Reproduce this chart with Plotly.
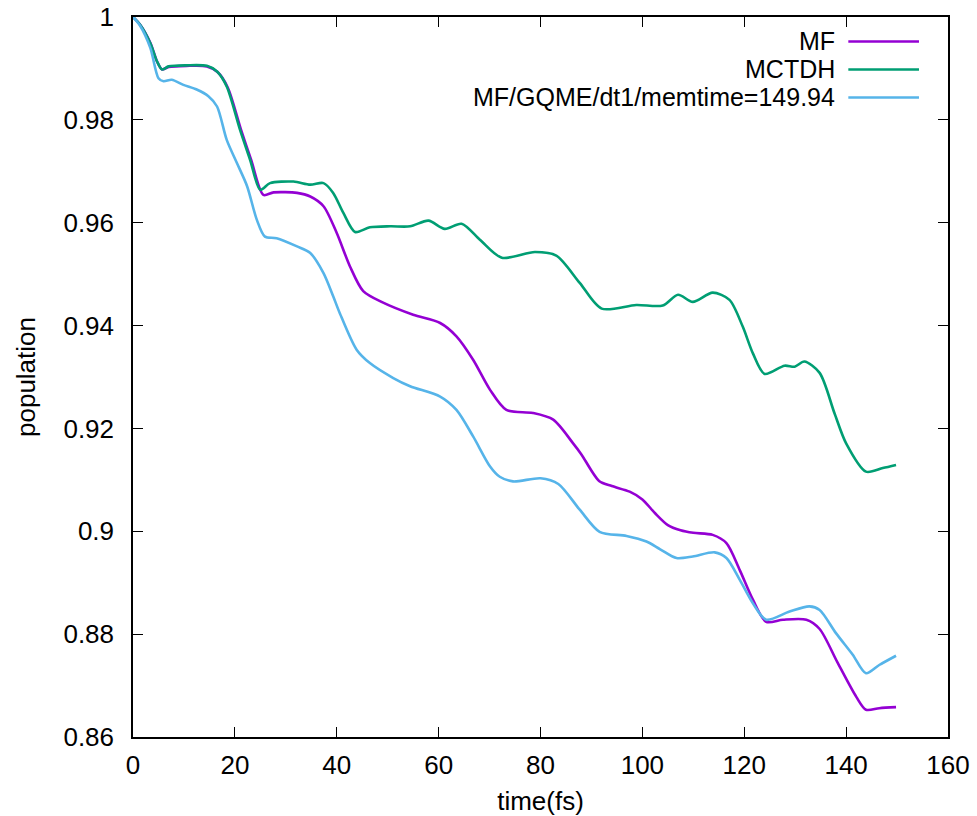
import plotly.graph_objects as go

# ---- data ----
series_names = ["MF", "MCTDH", "MF/GQME/dt1/memtime=149.94"]
series_colors = ["#9400D3", "#009E73", "#56B4E9"]

t_mf = [0, 1.4, 3.4, 4.7, 5.7, 7.0, 10.5, 14.5, 16.6, 18.6, 21.2, 23.2, 25.6, 27.6, 32.2, 34.8,
        37.4, 40.0, 42.6, 45.2, 49.0, 55.0, 60.3, 63.5, 66.8, 70.1, 73.3, 78.5, 82.5, 86.4, 88.0,
        91.5, 94.0, 97.5, 100.0, 102.5, 105.0, 107.5, 110.0, 113.8, 116.5, 119.1, 121.7, 124.3,
        127.6, 132.2, 134.8, 138.3, 142.0, 143.9, 146.5, 149.8]
v_mf = [1.0, 0.9985, 0.9950, 0.9914, 0.9898, 0.9903, 0.9905, 0.9904, 0.9893, 0.9863, 0.9781, 0.9722,
        0.9654, 0.9659, 0.9658, 0.9651, 0.9632, 0.9580, 0.9515, 0.9467, 0.9445, 0.9421, 0.9405,
        0.9379, 0.9333, 0.9275, 0.9236, 0.9230, 0.9217, 0.9171, 0.9150, 0.9098, 0.9088, 0.9077,
        0.9062, 0.9035, 0.9012, 0.9002, 0.8997, 0.8993, 0.8977, 0.8925, 0.8867, 0.8824, 0.8828,
        0.8828, 0.8810, 0.8745, 0.8678, 0.8653, 0.8656, 0.8658]

t_mctdh = [0, 1.4, 3.4, 4.7, 5.7, 7.0, 10.5, 14.5, 16.5, 18.4, 21.0, 23.0, 25.0, 26.9, 31.5, 34.8,
           37.4, 39.3, 41.3, 43.6, 46.5, 50.5, 54.4, 58.0, 61.2, 64.5, 68.1, 72.4, 78.9, 83.1, 87.7,
           92.0, 98.8, 104.0, 107.0, 109.9, 113.8, 117.1, 119.7, 121.7, 124.0, 127.9, 129.9, 131.8,
           134.8, 137.7, 140.0, 143.9, 147.2, 149.8]
v_mctdh = [1.0, 0.9985, 0.9949, 0.9914, 0.9898, 0.9904, 0.9906, 0.9905, 0.9894, 0.9865, 0.9781,
           0.9722, 0.9664, 0.9677, 0.9680, 0.9674, 0.9677, 0.9658, 0.9619, 0.9582, 0.9591, 0.9593,
           0.9593, 0.9604, 0.9588, 0.9598, 0.9567, 0.9532, 0.9543, 0.9536, 0.9483, 0.9433, 0.9440,
           0.9439, 0.9460, 0.9446, 0.9464, 0.9450, 0.9398, 0.9346, 0.9306, 0.9322, 0.9320, 0.9330,
           0.9308, 0.9230, 0.9171, 0.9116, 0.9123, 0.9129]

t_gqme = [0, 1.4, 3.4, 5.0, 6.0, 7.6, 9.9, 12.5, 14.8, 16.5, 18.4, 20.4, 22.4, 24.3, 25.9, 28.2,
          32.2, 34.8, 37.4, 39.3, 40.6, 43.9, 46.5, 51.1, 54.4, 60.3, 63.5, 66.8, 70.1, 72.0, 74.6,
          80.0, 83.5, 87.7, 91.6, 96.9, 100.8, 103.5, 106.7, 109.9, 114.2, 116.5, 119.1, 121.7,
          124.3, 128.9, 132.8, 134.8, 138.0, 141.3, 143.9, 146.5, 149.8]
v_gqme = [1.0, 0.9983, 0.9940, 0.9881, 0.9875, 0.9878, 0.9868, 0.9859, 0.9846, 0.9826, 0.9761,
          0.9716, 0.9671, 0.9606, 0.9573, 0.9570, 0.9554, 0.9541, 0.9502, 0.9457, 0.9424, 0.9353,
          0.9327, 0.9298, 0.9282, 0.9262, 0.9236, 0.9184, 0.9126, 0.9106, 0.9097, 0.9103, 0.9092,
          0.9042, 0.8999, 0.8991, 0.8980, 0.8965, 0.8948, 0.8951, 0.8959, 0.8948, 0.8906, 0.8860,
          0.8828, 0.8844, 0.8854, 0.8847, 0.8802, 0.8760, 0.8724, 0.8740, 0.8758]

x_ticks = [0, 20, 40, 60, 80, 100, 120, 140, 160]
y_ticks = [0.86, 0.88, 0.90, 0.92, 0.94, 0.96, 0.98, 1.0]
y_ticktext = ["0.86", "0.88", "0.9", "0.92", "0.94", "0.96", "0.98", "1"]

xs = [t_mf, t_mctdh, t_gqme]
ys = [v_mf, v_mctdh, v_gqme]

FONT = "Liberation Sans, Arial, Helvetica, sans-serif"
FS = 26

fig = go.Figure()
for name, color, x, y in zip(series_names, series_colors, xs, ys):
    fig.add_trace(go.Scatter(x=x, y=y, mode="lines", name=name,
                             line=dict(color=color, width=2.6, shape="spline", smoothing=0.8),
                             showlegend=False))

# gnuplot-style legend: right-aligned text, line sample on the right
leg_y = [0.9660, 0.9271, 0.8882]
for name, color, ly in zip(series_names, series_colors, leg_y):
    fig.add_annotation(xref="paper", yref="paper", x=0.861, y=ly, text=name,
                       showarrow=False, xanchor="right", yanchor="middle",
                       borderpad=0, borderwidth=0,
                       font=dict(family=FONT, size=25, color="black"))
    fig.add_shape(type="line", xref="paper", yref="paper", x0=0.8777, x1=0.9644,
                  y0=ly, y1=ly, line=dict(color=color, width=2.6))

axis_common = dict(showline=True, linecolor="black", linewidth=1.5, mirror="ticks",
                   ticks="inside", ticklen=10, tickwidth=1, tickcolor="black",
                   showgrid=False, zeroline=False, automargin=False,
                   tickfont=dict(family=FONT, size=FS, color="black"))

fig.update_xaxes(range=[0, 160], tickvals=x_ticks, ticktext=[str(v) for v in x_ticks],
                 title=dict(text="time(fs)", font=dict(family=FONT, size=FS, color="black"),
                            standoff=15),
                 ticklabelstandoff=4, **axis_common)
fig.update_yaxes(range=[0.86, 1.0], tickvals=y_ticks, ticktext=y_ticktext,
                 title=dict(text="population", font=dict(family=FONT, size=FS, color="black"),
                            standoff=20),
                 ticklabelstandoff=12, **axis_common)

fig.update_layout(width=977, height=816, margin=dict(l=133, r=29, t=17, b=79),
                  plot_bgcolor="white", paper_bgcolor="white",
                  font=dict(family=FONT, size=FS, color="black"))

fig.write_html("out.html")
